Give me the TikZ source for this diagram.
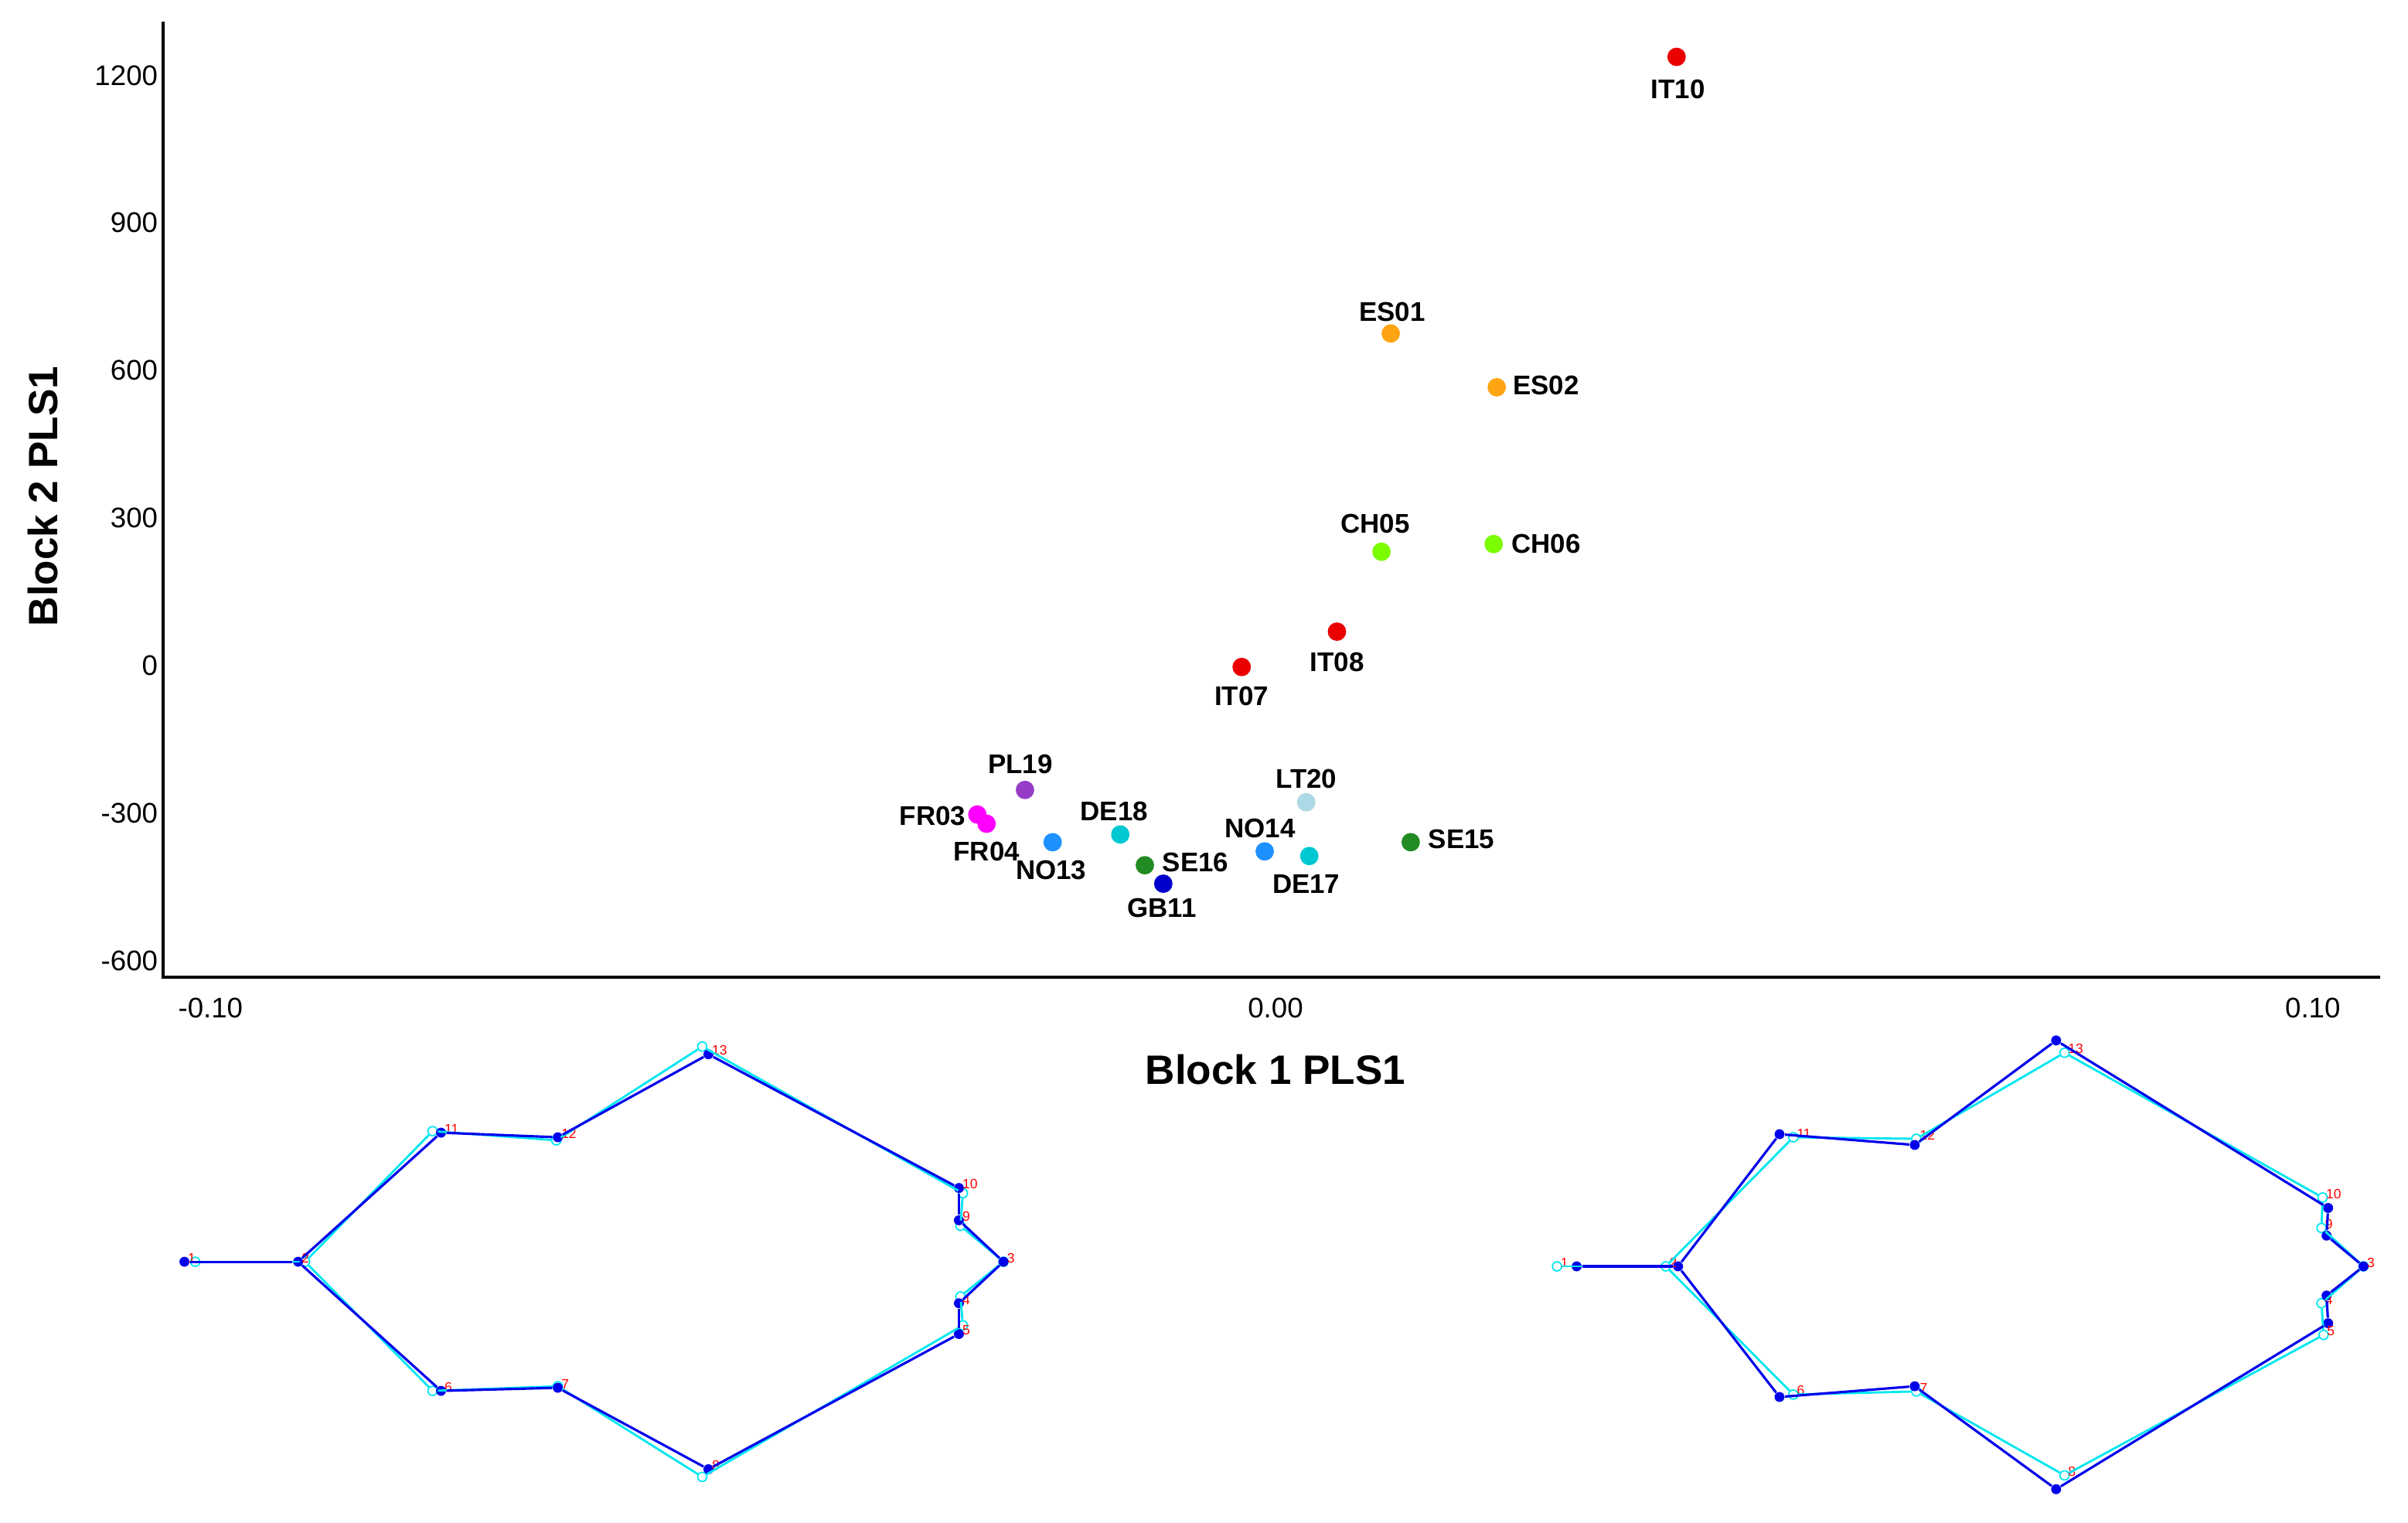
\documentclass[tikz,border=0pt]{standalone}
\usepackage{fontspec}
\setmainfont{Liberation Sans}
\usepackage{tikz}
\usetikzlibrary{positioning}
\definecolor{itred}{RGB}{235,0,0}
\definecolor{esorange}{RGB}{255,165,20}
\definecolor{chgreen}{RGB}{124,252,0}
\definecolor{plpurple}{RGB}{150,60,200}
\definecolor{frmagenta}{RGB}{255,0,255}
\definecolor{noblue}{RGB}{30,144,255}
\definecolor{deturq}{RGB}{0,200,210}
\definecolor{seforest}{RGB}{34,139,34}
\definecolor{gbblue}{RGB}{0,0,205}
\definecolor{ltblue}{RGB}{173,216,230}
\definecolor{lmblue}{RGB}{0,0,235}
\definecolor{lmcyan}{RGB}{0,230,240}

\tikzset{
  pt/.style={circle, fill=#1, inner sep=0pt, minimum size=0.24cm},
  lbl/.style={font=\bfseries\fontsize{10}{12}\selectfont, inner sep=0pt},
  tick/.style={font=\fontsize{10.5}{12}\selectfont, inner sep=0pt},
  axtitle/.style={font=\bfseries\fontsize{15.2}{18}\selectfont, inner sep=0pt},
  lm/.style={circle, fill=lmblue, inner sep=0pt, minimum size=0.13cm},
  lmref/.style={circle, draw=lmcyan, line width=0.5pt, inner sep=0pt, minimum size=0.12cm},
  lmnum/.style={font=\fontsize{5}{6}\selectfont, text=red, inner sep=0pt, anchor=south west}
}

\begin{document}
\begin{tikzpicture}[x=0.02cm, y=-0.02cm]
  \useasboundingbox (0,0) rectangle (1567,991);

  \coordinate (ytop) at (106,14);
  \coordinate (orig) at (106,636);
  \coordinate (xend) at (1549,636);
  \draw[line width=1.2pt] (ytop) -- (orig) -- (xend);

  \foreach \v/\y in {1200/49, 900/145, 600/241, 300/337, 0/433, -300/529, -600/625}
    \node[tick, anchor=east] (ty\v) at (103,\y) {\v};
  \node[tick] (tx1) at (137,656) {-0.10};
  \node[tick] (tx2) at (830,656) {0.00};
  \node[tick] (tx3) at (1505,656) {0.10};

  \node[axtitle] (xtitle) at (830,696) {Block 1 PLS1};
  \node[axtitle, rotate=90] (ytitle) at (28,323) {Block 2 PLS1};

  \node[pt=itred] (IT10) at (1091,37) {};
  \node[pt=esorange] (ES01) at (905,217) {};
  \node[pt=esorange] (ES02) at (974,252) {};
  \node[pt=chgreen] (CH05) at (899,359) {};
  \node[pt=chgreen] (CH06) at (972,354) {};
  \node[pt=itred] (IT08) at (870,411) {};
  \node[pt=itred] (IT07) at (808,434) {};
  \node[pt=plpurple] (PL19) at (667,514) {};
  \node[pt=frmagenta] (FR03) at (636,530) {};
  \node[pt=frmagenta] (FR04) at (642,536) {};
  \node[pt=noblue] (NO13) at (685,548) {};
  \node[pt=deturq] (DE18) at (729,543) {};
  \node[pt=seforest] (SE16) at (745,563) {};
  \node[pt=gbblue] (GB11) at (757,575) {};
  \node[pt=ltblue] (LT20) at (850,522) {};
  \node[pt=noblue] (NO14) at (823,554) {};
  \node[pt=deturq] (DE17) at (852,557) {};
  \node[pt=seforest] (SE15) at (918,548) {};

  \node[lbl] (tIT10) at (1092,58) {IT10};
  \node[lbl] (tES01) at (906,203) {ES01};
  \node[lbl] (tES02) at (1006,251) {ES02};
  \node[lbl] (tCH05) at (895,341) {CH05};
  \node[lbl] (tCH06) at (1006,354) {CH06};
  \node[lbl] (tIT08) at (870,431) {IT08};
  \node[lbl] (tIT07) at (808,453) {IT07};
  \node[lbl] (tPL19) at (664,497) {PL19};
  \node[lbl] (tFR03) at (607,531) {FR03};
  \node[lbl] (tFR04) at (642,554) {FR04};
  \node[lbl] (tNO13) at (684,566) {NO13};
  \node[lbl] (tDE18) at (725,528) {DE18};
  \node[lbl] (tSE16) at (778,561) {SE16};
  \node[lbl] (tGB11) at (756,591) {GB11};
  \node[lbl] (tLT20) at (850,507) {LT20};
  \node[lbl] (tNO14) at (820,539) {NO14};
  \node[lbl] (tDE17) at (850,575) {DE17};
  \node[lbl] (tSE15) at (951,546) {SE15};

  % left wing shape: reference (cyan) and target (blue)
  \foreach \n/\x/\y/\dx/\dy in {1/120/821/7/0, 2/194/821/4.5/0, 3/653/821/0/0, 4/624/848/1/-4.4,
      5/624/868/2.6/-5.6, 6/287/905/-5.5/0, 7/363/903/0/-1, 8/461/956/-4/5, 9/624/794/1/3.6,
      10/624/773/2.6/3.4, 11/287/737/-5.5/-1, 12/363/740/-1/2, 13/461/686/-4/-5} {
    \node[lmref] (ca\n) at (\x+\dx,\y+\dy) {};
    \node[lm] (ba\n) at (\x,\y) {};
    \node[lmnum] (na\n) at (\x+2,\y+1) {\n};
  }
  \foreach \a/\b in {1/2, 2/11, 11/12, 12/13, 13/10, 10/9, 9/3, 3/4, 4/5, 5/8, 8/7, 7/6, 6/2}
    \draw[lmcyan, line width=0.8pt] (ca\a) -- (ca\b);
  \foreach \a/\b in {1/2, 2/11, 11/12, 12/13, 13/10, 10/9, 9/3, 3/4, 4/5, 5/8, 8/7, 7/6, 6/2}
    \draw[lmblue, line width=0.9pt] (ba\a) -- (ba\b);

  % right wing shape
  \foreach \n/\x/\y/\dx/\dy in {1/1026/824/-12.8/0, 2/1092/824/-8/0, 3/1538/824/0/0, 4/1514/843/-3.3/5,
      5/1515/861/-3/7.6, 6/1158/909/9/-1.6, 7/1246/902/1/3.4, 8/1338/969/5.5/-9, 9/1514/804/-3.3/-5,
      10/1515/786/-3.6/-6.8, 11/1158/738/9/2, 12/1246/745/1/-4, 13/1338/677/5.5/8} {
    \node[lmref] (cb\n) at (\x+\dx,\y+\dy) {};
    \node[lm] (bb\n) at (\x,\y) {};
    \node[lmnum] (nb\n) at (\x+\dx+2,\y+\dy+1) {\n};
  }
  \foreach \a/\b in {1/2, 2/11, 11/12, 12/13, 13/10, 10/9, 9/3, 3/4, 4/5, 5/8, 8/7, 7/6, 6/2}
    \draw[lmcyan, line width=0.8pt] (cb\a) -- (cb\b);
  \foreach \a/\b in {1/2, 2/11, 11/12, 12/13, 13/10, 10/9, 9/3, 3/4, 4/5, 5/8, 8/7, 7/6, 6/2}
    \draw[lmblue, line width=0.9pt] (bb\a) -- (bb\b);
\end{tikzpicture}
\end{document}
